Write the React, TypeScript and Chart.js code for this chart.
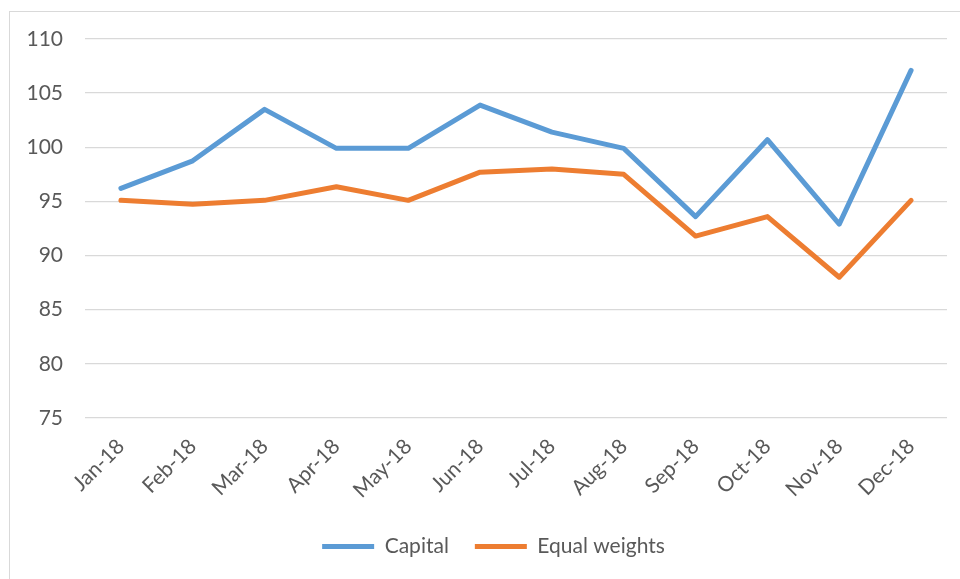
import React, { useEffect, useRef } from "react";
import { Chart, registerables } from "chart.js";

Chart.register(...registerables);

const months = ["Jan-18", "Feb-18", "Mar-18", "Apr-18", "May-18", "Jun-18", "Jul-18", "Aug-18", "Sep-18", "Oct-18", "Nov-18", "Dec-18"];
const capital = [96.2, 98.75, 103.5, 99.9, 99.9, 103.9, 101.4, 99.9, 93.6, 100.7, 92.9, 107.1];
const equalWeights = [95.1, 94.75, 95.1, 96.35, 95.1, 97.7, 98.0, 97.5, 91.8, 93.6, 88.0, 95.1];
const yMin = 75;
const yMax = 110;
const yStep = 5;

const FONT = "Lato, 'Open Sans', sans-serif";
const TEXT = "#595959";
const FS = 21;

const shiftLegend = {
  id: "shiftLegend",
  afterLayout(chart: any) {
    const lg = chart.legend;
    if (lg) {
      lg.left += 20;
      lg.right += 20;
    }
  },
};

export default function App() {
  const ref = useRef<HTMLCanvasElement | null>(null);
  useEffect(() => {
    if (!ref.current) return;
    const chart = new Chart(ref.current, {
      type: "line",
      data: {
        labels: months,
        datasets: [
          {
            label: "Capital",
            data: capital,
            borderColor: "#5B9BD5",
            backgroundColor: "#5B9BD5",
            borderWidth: 5,
            pointRadius: 0,
            borderCapStyle: "round",
            borderJoinStyle: "round",
            tension: 0,
          },
          {
            label: "Equal weights",
            data: equalWeights,
            borderColor: "#ED7D31",
            backgroundColor: "#ED7D31",
            borderWidth: 5,
            pointRadius: 0,
            borderCapStyle: "round",
            borderJoinStyle: "round",
            tension: 0,
          },
        ],
      },
      options: {
        responsive: false,
        animation: false,
        layout: { padding: { top: 39, left: 0, right: 13, bottom: 12 } },
        plugins: {
          tooltip: { enabled: false },
          legend: {
            position: "bottom",
            labels: {
              usePointStyle: true,
              pointStyle: "line",
              pointStyleWidth: 52,
              boxWidth: 52,
              padding: 26,
              color: TEXT,
              font: { family: FONT, size: FS },
            },
          },
        },
        scales: {
          x: {
            offset: true,
            grid: { display: false },
            border: { display: false },
            ticks: {
              color: TEXT,
              font: { family: FONT, size: FS },
              maxRotation: 45,
              minRotation: 45,
              padding: 8,
              autoSkip: false,
            },
            afterFit: (s: any) => {
              s.height = 92;
            },
          },
          y: {
            min: yMin,
            max: yMax,
            grid: { color: "#D9D9D9", lineWidth: 1.3, drawTicks: false },
            border: { display: false },
            ticks: {
              stepSize: yStep,
              color: TEXT,
              font: { family: FONT, size: FS },
              padding: 22,
            },
            afterFit: (s: any) => {
              s.width = 85;
            },
          },
        },
      },
      plugins: [shiftLegend],
    });
    return () => chart.destroy();
  }, []);
  return (
    <div style={{ position: "fixed", inset: 0, overflow: "hidden", background: "#fff" }}>
      <div
        style={{
          position: "absolute",
          left: 9,
          top: 11,
          width: 980,
          height: 600,
          border: "1.5px solid #D9D9D9",
        }}
      />
      <canvas ref={ref} width={960} height={579} style={{ position: "absolute", left: 0, top: 0, display: "block" }} />
    </div>
  );
}
